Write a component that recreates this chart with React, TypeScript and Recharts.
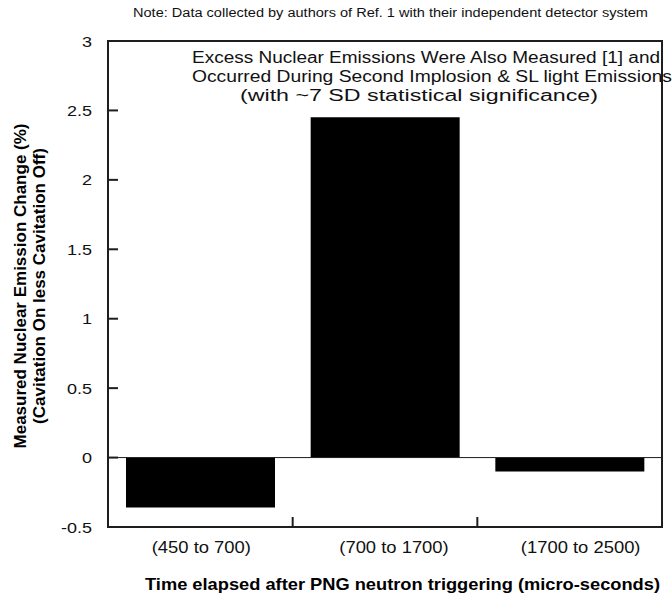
import { Bar, BarChart, ReferenceLine, XAxis, YAxis } from 'recharts'

const RANGES = ['(450 to 700)', '(700 to 1700)', '(1700 to 2500)']
const EMISSION_CHANGE = [-0.36, 2.45, -0.1]
const Y_TICKS = [-0.5, 0, 0.5, 1, 1.5, 2, 2.5, 3]

const NOTE = 'Note:  Data collected by authors of Ref. 1 with their independent detector system'
const ANNOTATION = [
  'Excess Nuclear Emissions Were Also Measured [1] and',
  'Occurred During Second Implosion & SL light  Emissions',
  '(with ~7 SD statistical significance)'
]
const X_TITLE = 'Time elapsed after PNG neutron triggering (micro-seconds)'
const Y_TITLE = ['Measured Nuclear Emission Change (%)', '(Cavitation On less Cavitation Off)']

const rows = RANGES.map((range, i) => ({ range, change: EMISSION_CHANGE[i] }))

const FONT = '"Liberation Sans", Arial, Helvetica, sans-serif'
const FRAME = '#1e1e1e'
const LABEL_NUDGE = [1, 9, 11]

// plot box, matching the chart margins below
const PLOT = { left: 108, top: 41, right: 662, bottom: 527 }

const halfBand = (props: any) =>
  props.payload?.offset ?? props.width / (props.visibleTicksCount || 3) / 2

const LeftTick = ({ x, y, payload }: any) => (
  <g>
    <line x1={x} x2={x + 10} y1={y} y2={y} stroke={FRAME} strokeWidth={2} />
    <text
      transform={`translate(${x - 16},${y + 5.5}) scale(1.2,1)`}
      textAnchor="end"
      fontSize={15}
      fontFamily={FONT}
      fill="#111"
    >
      {String(payload.value)}
    </text>
  </g>
)

const RightTick = ({ x, y }: any) => (
  <line x1={x - 8} x2={x} y1={y} y2={y} stroke={FRAME} strokeWidth={2} />
)

const BottomTick = (props: any) => {
  const { x, y, payload, index } = props
  const half = halfBand(props)
  return (
    <g>
      {index < RANGES.length - 1 && (
        <line x1={x + half} x2={x + half} y1={y} y2={y - 10} stroke={FRAME} strokeWidth={2} />
      )}
      <text
        transform={`translate(${x + LABEL_NUDGE[index]},${y + 26}) scale(1.15,1)`}
        textAnchor="middle"
        fontSize={16}
        fontFamily={FONT}
        fill="#111"
      >
        {payload.value}
      </text>
    </g>
  )
}

const TopTick = (props: any) => {
  const { x, y, index } = props
  const half = halfBand(props)
  if (index >= RANGES.length - 1) return <g />
  return <line x1={x + half} x2={x + half} y1={y} y2={y + 10} stroke={FRAME} strokeWidth={2} />
}

export default function App() {
  return (
    <div style={{ position: 'absolute', left: 0, top: 0, width: 672, height: 597, background: '#fff' }}>
      <BarChart
        width={672}
        height={597}
        data={rows}
        margin={{ top: PLOT.top, right: 672 - PLOT.right, bottom: 0, left: 0 }}
        barCategoryGap={18}
      >
        <XAxis
          dataKey="range"
          height={597 - PLOT.bottom}
          axisLine={{ stroke: FRAME, strokeWidth: 2 }}
          tickSize={0}
          tickMargin={0}
          tickLine={false}
          tick={BottomTick}
          interval={0}
        />
        <XAxis
          xAxisId="top"
          dataKey="range"
          orientation="top"
          height={0}
          axisLine={{ stroke: FRAME, strokeWidth: 2 }}
          tickSize={0}
          tickMargin={0}
          tickLine={false}
          tick={TopTick}
          interval={0}
        />
        <YAxis
          type="number"
          domain={[-0.5, 3]}
          ticks={Y_TICKS}
          width={PLOT.left}
          axisLine={{ stroke: FRAME, strokeWidth: 2 }}
          tickSize={0}
          tickMargin={0}
          tickLine={false}
          tick={LeftTick}
          interval={0}
          allowDataOverflow
        />
        <YAxis
          yAxisId="right"
          orientation="right"
          type="number"
          domain={[-0.5, 3]}
          ticks={Y_TICKS}
          width={0}
          axisLine={{ stroke: FRAME, strokeWidth: 2 }}
          tickSize={0}
          tickMargin={0}
          tickLine={false}
          tick={RightTick}
          interval={0}
          allowDataOverflow
        />
        <ReferenceLine y={0} stroke={FRAME} strokeWidth={1} />
        <Bar dataKey="change" fill="#000" isAnimationActive={false} />
      </BarChart>

      <svg
        width={672}
        height={597}
        style={{ position: 'absolute', left: 0, top: 0, pointerEvents: 'none' }}
        fontFamily={FONT}
      >
        <rect
          x={PLOT.left}
          y={PLOT.top}
          width={PLOT.right - PLOT.left}
          height={PLOT.bottom - PLOT.top}
          fill="none"
          stroke={FRAME}
          strokeWidth={2}
        />
        <text x={133} y={17} fontSize={12} textLength={515} lengthAdjust="spacingAndGlyphs" fill="#111">
          {NOTE}
        </text>
        <text x={192} y={63} fontSize={16} textLength={468} lengthAdjust="spacingAndGlyphs" fill="#111">
          {ANNOTATION[0]}
        </text>
        <text x={192} y={82} fontSize={16} textLength={480} lengthAdjust="spacingAndGlyphs" fill="#111">
          {ANNOTATION[1]}
        </text>
        <text x={240} y={101} fontSize={16} textLength={358} lengthAdjust="spacingAndGlyphs" fill="#111">
          {ANNOTATION[2]}
        </text>
        <text
          x={402.5}
          y={590}
          fontSize={17}
          fontWeight="bold"
          textAnchor="middle"
          textLength={515}
          lengthAdjust="spacingAndGlyphs"
          fill="#000"
        >
          {X_TITLE}
        </text>
        <text
          transform="translate(26,286) rotate(-90)"
          fontSize={17}
          fontWeight="bold"
          textAnchor="middle"
          fill="#000"
        >
          {Y_TITLE[0]}
        </text>
        <text
          transform="translate(45,286) rotate(-90)"
          fontSize={17}
          fontWeight="bold"
          textAnchor="middle"
          fill="#000"
        >
          {Y_TITLE[1]}
        </text>
      </svg>
    </div>
  )
}
